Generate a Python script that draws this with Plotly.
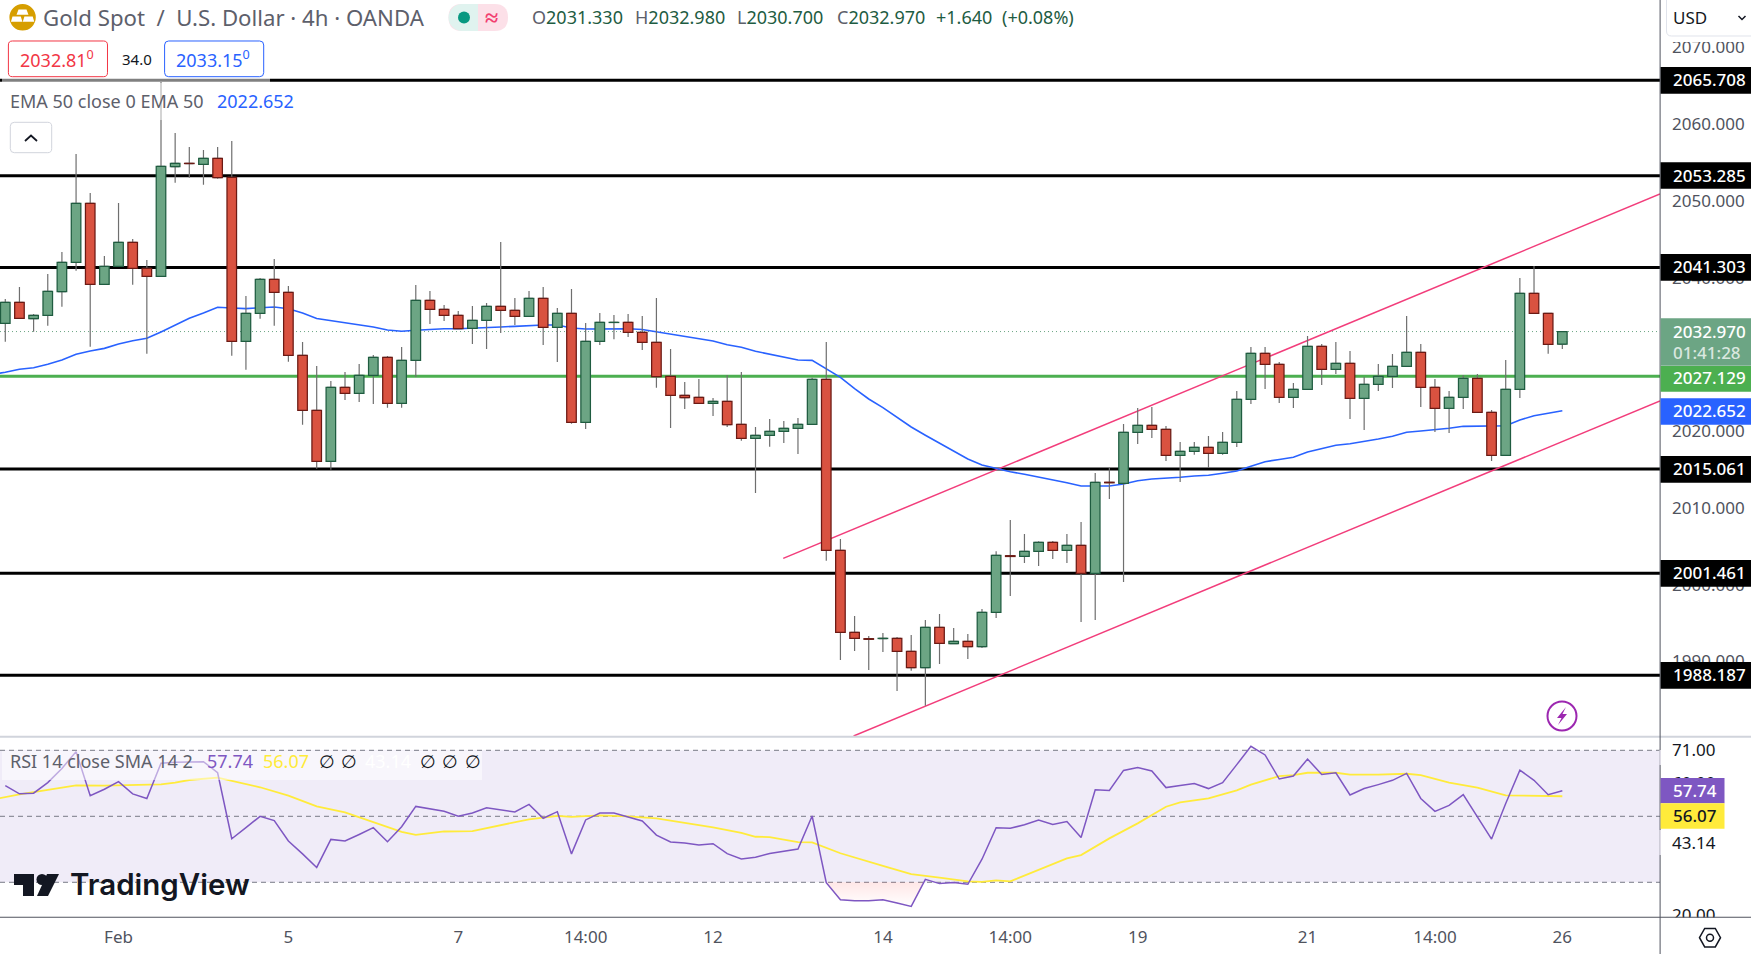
import plotly.graph_objects as go

# ---------- data ----------
opens = [2034.04,2036.78,2034.64,2035.09,2038.16,2041.99,2049.68,2039.13,2041.47,2044.60,2041.21,2040.17,2054.45,2054.89,2054.76,2055.54,2053.07,2031.70,2035.35,2039.78,
2038.08,2029.87,2022.71,2016.06,2025.70,2024.92,2027.27,2029.61,2023.62,2029.22,2037.04,2035.87,2035.09,2033.39,2034.44,2036.26,2035.74,2034.96,2037.30,2033.52,
2035.35,2021.14,2031.70,2034.15,2034.17,2032.87,2031.57,2027.14,2024.66,2024.40,2023.62,2023.88,2020.88,2019.06,2019.45,2019.97,2020.36,2020.88,2026.75,2004.47,
1993.78,1992.95,1992.97,1993.00,1991.31,1989.17,1994.43,1992.30,1992.61,1991.91,1996.39,2003.76,2003.68,2004.34,2005.51,2004.47,2005.12,2001.47,2013.33,2013.20,
2019.84,2020.75,2020.23,2016.84,2017.36,2017.89,2017.11,2018.54,2024.14,2030.13,2028.70,2024.40,2025.44,2031.05,2028.05,2028.83,2024.27,2026.10,2027.14,2028.44,
2030.27,2025.70,2022.97,2024.40,2026.88,2022.45,2016.84,2025.44,2037.95,2035.35,2031.33]
highs = [2037.21,2038.77,2035.26,2040.47,2043.33,2056.10,2051.02,2042.81,2049.72,2045.03,2042.29,2065.49,2058.84,2057.02,2056.63,2057.02,2057.80,2037.60,2039.95,2042.42,
2038.90,2031.61,2028.48,2026.53,2027.70,2028.74,2029.91,2029.78,2030.95,2039.03,2038.25,2036.43,2035.65,2036.30,2036.69,2044.64,2037.34,2038.25,2038.77,2036.04,
2038.51,2034.08,2035.39,2035.13,2035.26,2035.00,2037.34,2030.70,2026.39,2026.78,2024.31,2027.31,2027.70,2020.53,2021.57,2021.31,2021.70,2026.96,2031.61,2005.94,
1995.91,1993.30,1993.69,1993.17,1993.43,1995.38,1996.17,1994.34,1993.56,1996.82,2004.34,2008.41,2006.59,2005.64,2005.68,2006.59,2008.15,2014.54,2015.19,2020.92,
2023.01,2023.14,2020.66,2018.58,2018.58,2019.36,2019.88,2025.22,2030.95,2030.95,2029.00,2026.26,2032.39,2031.35,2031.61,2030.43,2027.05,2028.74,2030.04,2034.99,
2031.35,2026.78,2025.22,2027.31,2027.44,2022.75,2029.26,2039.95,2041.51,2035.39,2032.98]
lows = [2031.65,2034.64,2032.95,2033.73,2036.21,2040.90,2030.99,2039.13,2041.47,2039.07,2030.09,2040.17,2052.36,2053.02,2052.10,2052.89,2029.82,2028.00,2034.64,2033.73,
2029.04,2020.83,2015.10,2014.97,2024.05,2023.79,2023.53,2023.05,2023.05,2027.05,2033.95,2034.34,2033.34,2031.35,2030.70,2032.78,2033.82,2034.96,2031.22,2029.00,
2020.96,2020.27,2031.22,2031.98,2032.26,2030.57,2025.65,2020.40,2022.88,2023.62,2021.96,2020.53,2018.75,2011.93,2017.96,2018.45,2017.01,2020.88,2003.11,1990.17,
1991.35,1988.87,1991.21,1986.13,1988.78,1984.22,1989.65,1992.30,1990.30,1991.74,1995.65,1998.51,2002.81,2002.42,2003.33,2002.81,1995.12,1995.38,2011.15,2000.33,
2018.32,2019.10,2016.10,2013.37,2016.92,2015.19,2016.92,2017.93,2023.53,2025.48,2023.66,2023.01,2025.44,2026.00,2027.44,2021.57,2020.14,2025.22,2025.61,2028.44,
2023.14,2019.88,2019.75,2022.88,2022.45,2016.10,2016.84,2024.31,2035.26,2030.09,2030.70]
closes = [2036.78,2034.69,2035.09,2038.21,2041.99,2049.68,2039.13,2041.47,2044.60,2041.21,2040.17,2054.50,2054.89,2054.86,2055.54,2053.02,2031.70,2035.35,2039.78,2038.08,
2029.87,2022.71,2016.06,2025.70,2024.92,2027.27,2029.61,2023.62,2029.22,2037.04,2035.87,2035.09,2033.34,2034.44,2036.26,2035.74,2034.96,2037.30,2033.52,2035.35,
2021.14,2031.70,2034.17,2034.17,2032.87,2031.57,2027.09,2024.66,2024.35,2023.62,2023.88,2020.83,2019.06,2019.45,2019.97,2020.36,2020.88,2026.75,2004.47,1993.78,
1993.00,1992.87,1993.00,1991.31,1989.17,1994.43,1992.35,1992.61,1991.91,1996.39,2003.82,2003.66,2004.34,2005.51,2004.47,2005.12,2001.47,2013.33,2013.27,2019.84,
2020.75,2020.23,2016.84,2017.36,2017.89,2017.11,2018.54,2024.14,2030.13,2028.70,2024.40,2025.44,2031.05,2028.05,2028.83,2024.27,2026.10,2027.14,2028.44,2030.27,
2025.70,2022.97,2024.40,2026.88,2022.45,2016.84,2025.44,2037.95,2035.35,2031.31,2032.97]

ema_x = list(range(-1, 111))
ema = [2027.37,2027.66,2028.05,2028.26,2028.70,2029.26,2030.00,2030.44,2030.78,2031.35,2031.78,2032.09,2032.91,2033.82,2034.69,2035.38,2036.13,2036.04,2035.95,2036.08,
2036.17,2035.95,2035.38,2034.67,2034.38,2034.04,2033.78,2033.56,2033.17,2033.00,2033.13,2033.26,2033.33,2033.34,2033.39,2033.47,2033.56,2033.65,2033.78,2033.82,
2033.82,2033.43,2033.30,2033.30,2033.34,2033.34,2033.24,2032.95,2032.65,2032.39,2032.09,2031.74,2031.26,2030.92,2030.40,2030.04,2029.65,2029.26,2029.22,2028.09,
2027.01,2025.52,2024.18,2023.05,2021.84,2020.53,2019.45,2018.45,2017.44,2016.36,2015.58,2015.10,2014.71,2014.37,2014.02,2013.67,2013.27,2012.85,2012.85,2012.85,
2013.10,2013.53,2013.75,2013.85,2013.98,2014.15,2014.24,2014.50,2014.80,2015.43,2016.01,2016.30,2016.60,2017.27,2017.70,2018.15,2018.36,2018.62,2018.97,2019.32,
2019.84,2020.01,2020.14,2020.36,2020.62,2020.66,2020.62,2020.70,2021.44,2022.00,2022.32,2022.652]

rsi = [59.3,56.8,57.0,60.2,64.5,69.6,56.25,58.2,60.5,56.8,55.4,66.05,66.35,66.35,66.55,63.2,43.2,46.55,50.0,48.7,
42.5,38.6,34.5,43.0,42.5,44.5,46.55,42.3,46.85,53.0,52.2,51.5,50.0,51.0,52.6,52.0,51.3,53.6,49.4,51.4,
38.6,48.9,51.0,51.0,49.9,48.6,44.3,42.2,41.9,41.3,41.7,38.7,37.05,37.6,38.7,39.3,40.1,50.1,29.9,24.7,
24.4,24.4,24.7,23.7,22.7,30.9,29.6,29.9,29.4,37.0,46.55,46.35,47.45,48.9,47.55,48.4,43.6,58.05,57.85,63.9,
64.75,63.75,58.7,59.3,59.9,58.4,60.2,65.65,71.2,68.6,61.3,62.2,67.35,62.7,63.2,56.45,58.4,59.6,60.9,63.0,
55.4,51.5,53.3,56.55,49.9,43.1,53.9,64.0,60.9,56.55,57.74]

sma_x = [-1,1,3,5,7,9,11,12,13,15,16,18,20,22,24,26,28,29,31,33,35,37,39,40,42,44,46,48,50,52,53,54,56,57,59,62,64,66,68,69,70,71,73,75,76,78,80,82,83,85,87,88,90,91,92,94,95,97,99,100,102,104,106,108,110]
sma = [55.0,56.65,58.0,59.4,59.3,59.5,59.7,60.2,61.0,61.7,60.7,58.8,56.25,53.0,51.2,48.2,45.3,44.4,45.4,45.5,47.35,49.1,50.1,49.8,50.3,50.0,49.4,48.1,46.65,45.0,43.8,43.7,42.2,42.1,38.8,35.0,32.5,31.4,30.3,30.1,30.6,30.3,33.7,37.25,38.25,43.3,47.85,52.9,54.2,55.45,57.85,59.6,62.2,62.5,63.2,63.2,62.6,62.6,62.9,62.5,60.2,58.7,56.35,56.25,56.07]

levels = [2065.708, 2053.285, 2041.303, 2015.061, 2001.461, 1988.187]
green_level = 2027.129
last_price = 2032.97
channel_upper_x, channel_upper_y = [54.96, 116.9], [2003.42, 2050.89]
channel_lower_x, channel_lower_y = [59.93, 116.9], [1980.27, 2023.92]
price_ticks = [1990, 2000, 2010, 2020, 2030, 2040, 2050, 2060, 2070]
rsi_ticks = [70, 60, 41.9, 20]
rsi_tick_text = ["71.00", "60.00", "43.14", "20.00"]
rsi_levels = [70, 50, 30]
date_ticks = [8, 20, 32, 41, 50, 62, 71, 80, 92, 101, 110]
date_text = ["Feb", "5", "7", "14:00", "12", "14", "14:00", "19", "21", "14:00", "26"]
idx = list(range(len(opens)))

# ---------- styling ----------
W, H, PW, PH = 1751, 954, 1660, 917
FONT = "Noto Sans"
UP, UP_B, DN, DN_B, WICK = "#6ca584", "#1f5c40", "#d95240", "#6b1a14", "#6f6f6f"
BLUE, PINK, PURPLE, YEL = "#2962ff", "#f23d7b", "#7e57c2", "#ffeb3b"
PRICE_RANGE = [1980.27, 2076.17]

def X(p): return p / PW
def Y(p): return 1 - p / PH

shapes, ann = [], []

def rect(x0, y0, x1, y1, fill, line=None, lw=0, layer="above"):
    shapes.append(dict(type="rect", xref="paper", yref="paper", x0=X(x0), x1=X(x1), y0=Y(y0), y1=Y(y1),
                       fillcolor=fill, line=dict(color=line or fill, width=lw), layer=layer))

def path(pts, fill="rgba(0,0,0,0)", line=None, lw=0, close=True):
    d = "M" + " L".join(f"{X(a):.6f},{Y(b):.6f}" for a, b in pts) + (" Z" if close else "")
    shapes.append(dict(type="path", xref="paper", yref="paper", path=d, fillcolor=fill,
                       line=dict(color=line or "rgba(0,0,0,0)", width=lw), layer="above"))

def circle(cx, cy, r, fill, line=None, lw=0):
    shapes.append(dict(type="circle", xref="paper", yref="paper", x0=X(cx - r), x1=X(cx + r), y0=Y(cy - r), y1=Y(cy + r),
                       fillcolor=fill, line=dict(color=line or fill, width=lw), layer="above"))

def rrect(x0, y0, x1, y1, r, fill, line, lw=1):
    d = (f"M{X(x0+r):.6f},{Y(y0):.6f} L{X(x1-r):.6f},{Y(y0):.6f} Q{X(x1):.6f},{Y(y0):.6f} {X(x1):.6f},{Y(y0+r):.6f} "
         f"L{X(x1):.6f},{Y(y1-r):.6f} Q{X(x1):.6f},{Y(y1):.6f} {X(x1-r):.6f},{Y(y1):.6f} L{X(x0+r):.6f},{Y(y1):.6f} "
         f"Q{X(x0):.6f},{Y(y1):.6f} {X(x0):.6f},{Y(y1-r):.6f} L{X(x0):.6f},{Y(y0+r):.6f} Q{X(x0):.6f},{Y(y0):.6f} {X(x0+r):.6f},{Y(y0):.6f} Z")
    shapes.append(dict(type="path", xref="paper", yref="paper", path=d, fillcolor=fill, line=dict(color=line, width=lw), layer="above"))

def text(x, y, t, size=17, color="#131722", anchor="left", family=FONT, **kw):
    ann.append(dict(xref="paper", yref="paper", x=X(x), y=Y(y), text=t, showarrow=False, xanchor=anchor, yanchor="middle",
                    borderpad=0, font=dict(family=family, size=size, color=color, **kw)))

def tag(y0, y1, t, bg, ty, fg="#ffffff", right=W, size=17):
    rect(1660.6, y0, right, y1, bg)
    text(1672, ty, t, size=size, color=fg, weight=500)

# ---------- traces ----------
fig = go.Figure()
x_span = [-0.374, 116.9]
for lv in levels:
    fig.add_trace(go.Scatter(x=x_span, y=[lv, lv], mode="lines", line=dict(color="#000000", width=3), hoverinfo="skip"))
fig.add_trace(go.Scatter(x=x_span, y=[green_level] * 2, mode="lines", line=dict(color="#4caf50", width=3), hoverinfo="skip"))
fig.add_trace(go.Scatter(x=x_span, y=[last_price] * 2, mode="lines", line=dict(color=UP, width=1, dash="1px 3px"), hoverinfo="skip"))
fig.add_trace(go.Scatter(x=channel_upper_x, y=channel_upper_y, mode="lines", line=dict(color=PINK, width=1.5), hoverinfo="skip"))
fig.add_trace(go.Scatter(x=channel_lower_x, y=channel_lower_y, mode="lines", line=dict(color=PINK, width=1.5), hoverinfo="skip"))
fig.add_trace(go.Scatter(x=ema_x, y=ema, mode="lines", line=dict(color=BLUE, width=1.6), hoverinfo="skip"))
# wicks on a first overlay axis, so candles sit above the lines
fig.add_trace(go.Candlestick(x=idx, open=opens, high=highs, low=lows, close=closes, whiskerwidth=0, yaxis="y3",
                             increasing=dict(line=dict(color=WICK, width=1.2), fillcolor=UP),
                             decreasing=dict(line=dict(color=WICK, width=1.2), fillcolor=DN), hoverinfo="skip"))
# bodies on a second overlay axis, so they sit above the wicks
is_up = [c >= o for o, c in zip(opens, closes)]
body_lo = [min(o, c) for o, c in zip(opens, closes)]
body_h = [abs(c - o) for o, c in zip(opens, closes)]
fig.add_trace(go.Bar(x=idx, y=body_h, base=body_lo, width=0.675, yaxis="y4", hoverinfo="skip",
                     marker=dict(color=[UP if u else DN for u in is_up],
                                 line=dict(color=[UP_B if u else DN_B for u in is_up], width=1.25))))

# RSI
os_x = list(range(58, 65)) + [64.89]
os_y = rsi[58:65] + [30]
fig.add_trace(go.Scatter(x=[os_x[0], os_x[-1]], y=[30, 30], mode="lines", line=dict(width=0), yaxis="y2", hoverinfo="skip"))
fig.add_trace(go.Scatter(x=os_x, y=os_y, mode="lines", line=dict(width=0), yaxis="y2", fill="tonexty",
                         fillgradient=dict(type="vertical", colorscale=[[0, "rgba(255,82,82,0.0)"], [1, "rgba(255,82,82,0.14)"]]), hoverinfo="skip"))
fig.add_trace(go.Scatter(x=sma_x, y=sma, mode="lines", line=dict(color=YEL, width=1.8), yaxis="y2", hoverinfo="skip"))
fig.add_trace(go.Scatter(x=idx, y=rsi, mode="lines", line=dict(color=PURPLE, width=1.5), yaxis="y2", hoverinfo="skip"))

# RSI band
shapes.append(dict(type="rect", xref="x", yref="y2", x0=x_span[0], x1=x_span[1], y0=30, y1=70, fillcolor="#f0ecf8", line=dict(width=0), layer="below"))
for lv in rsi_levels:
    shapes.append(dict(type="line", xref="x", yref="y2", x0=x_span[0], x1=x_span[1], y0=lv, y1=lv,
                       line=dict(color="#787b86", width=1, dash="5px 4px"), layer="below"))

# translucent legend backgrounds
rect(2, 40, 270, 82, "rgba(255,255,255,0.5)")
rect(2, 83, 300, 120, "rgba(255,255,255,0.5)")
rect(2, 751, 482, 780, "rgba(255,255,255,0.5)")

# frame
rect(1661, 0, W, 42, "#ffffff")
rect(1661, 917.6, W, H, "#ffffff")
rect(0, 735.7, W, 737.7, "#d1d4dc")
rect(1659.6, 0, 1660.6, H, "#50535e")
rect(0, 916.7, W, 917.7, "#50535e")
rect(1659.5, 750, 1660.8, 765, "#f0ecf8")
rect(1659.5, 830, 1660.8, 855, "#f0ecf8")

# ---------- header ----------
circle(22.6, 17.3, 13.2, "#d69e00")
path([(18.5, 9.5), (26.5, 9.5), (28.5, 14.7), (16.5, 14.7)], fill="#ffffff")
path([(12.5, 16.5), (20.8, 16.5), (22.4, 21.7), (10.9, 21.7)], fill="#ffffff")
path([(24.4, 16.5), (32.7, 16.5), (34.3, 21.7), (22.8, 21.7)], fill="#ffffff")
text(42, 17.5, "Gold Spot  /  U.S. Dollar · 4h · OANDA", size=22.2, color="#5d606b")
rrect(448.5, 4, 508, 31, 13.5, "#fce0e8", "#fce0e8", 0)
circle(462, 17.5, 13.5, "#e0f3ef")
rect(462, 4, 478, 31, "#e0f3ef")
circle(464, 17.5, 6, "#089981")
text(491, 17, "≈", size=24, color="#f23f71", anchor="center", weight=700)

G = "#1e5c42"
L = "#5d606b"
for px_, lab, val in [(530.5, "O", "2031.330"), (634, "H", "2032.980"), (736, "L", "2030.700"), (836, "C", "2032.970")]:
    text(px_, 17.5, f'<span style="color:{L}">{lab}</span>{val}', size=18, color=G)
text(935, 17.5, "+1.640", size=18, color=G)
text(1001.4, 17.5, "(+0.08%)", size=18, color=G)

rrect(8.4, 41, 107.5, 76.7, 4, "#ffffff", "#f23645", 1)
text(19, 59, "2032.81<sup>0</sup>", size=18, color="#f23645")
text(121, 59, "34.0", size=15, color="#131722")
rrect(164.6, 41, 263.7, 76.7, 4, "#ffffff", BLUE, 1)
text(174.5, 59, "2033.15<sup>0</sup>", size=18, color=BLUE)

text(8.5, 100.5, "EMA 50 close 0 EMA 50", size=18, color="#5d606b")
text(216, 100.5, "2022.652", size=18, color=BLUE)
rrect(10.3, 122.3, 51.7, 152.7, 4, "#ffffff", "#d1d4dc", 1)
path([(25, 141), (31, 135.5), (37, 141)], line="#131722", lw=1.8, close=False)

rrect(1666.5, -6, 1760, 36, 5, "#ffffff", "#e0e3eb", 1)
text(1672, 17.5, "USD", size=17)
path([(1738.5, 16), (1742, 19.5), (1745.5, 16)], line="#131722", lw=1.5, close=False)

# lightning
circle(1562, 716, 14.5, "#ffffff", "#9c27b0", 2)
path([(1566, 707), (1557, 718), (1561.5, 718), (1558, 725), (1567, 714), (1562.5, 714)], fill="#9c27b0")

# ---------- tags ----------
for y0, y1, lab in [(67, 93.7, "2065.708"), (162.3, 188.7, "2053.285"), (254, 280.7, "2041.303"), (456, 482.7, "2015.061"), (560, 586.7, "2001.461"), (662, 688.7, "1988.187")]:
    tag(y0, y1, lab, "#000000", (y0 + y1) / 2 - 0.5)
rect(1660.6, 318.3, W, 365.7, UP)
text(1672, 331.5, "2032.970", size=17, color="#ffffff", weight=500)
text(1672, 352.5, "01:41:28", size=17, color="rgba(255,255,255,0.75)", weight=500)
tag(366, 391.7, "2027.129", "#4caf50", 377.5)
tag(398.3, 424.7, "2022.652", BLUE, 410)
tag(778, 803.3, "57.74", PURPLE, 790.7, right=1724.5)
tag(803.3, 828.7, "56.07", YEL, 815.7, fg="#131722", right=1724.5)

# RSI legend
text(9, 760.5, "RSI 14 close SMA 14 2", size=18, color="#5d606b")
text(205.5, 760.5, "57.74", size=18, color=PURPLE)
text(262, 760.5, "56.07", size=18, color=YEL)
for px_ in (318, 340, 419, 441, 464):
    text(px_, 760.5, "∅", size=18, color="#131722")
text(363.6, 760.5, "43.14", size=18, color="#ffffff")

# TradingView logo
path([(14, 874), (34, 874), (34, 896), (23, 896), (23, 885), (14, 885)], fill="#131722")
circle(42, 879.5, 5.5, "#131722")
path([(47, 874), (59, 874), (48, 896), (37, 896)], fill="#131722")
text(69, 884, "TradingView", size=29.5, color="#131722", family="Inter", weight=600)

# settings icon
path([(1699.5, 937.7), (1704.7, 928.5), (1715.3, 928.5), (1720.5, 937.7), (1715.3, 946.9), (1704.7, 946.9)], line="#131722", lw=1.5)
circle(1710, 937.7, 3.5, "#ffffff", "#131722", 1.5)

overlay = dict(overlaying="y", range=PRICE_RANGE, side="right", anchor="x", showticklabels=False, showgrid=False, zeroline=False, showline=False, ticks="")
fig.update_layout(
    width=W, height=H, margin=dict(l=0, r=W - PW, t=0, b=H - PH), paper_bgcolor="#ffffff", plot_bgcolor="#ffffff",
    showlegend=False, barmode="overlay", font=dict(family=FONT), shapes=shapes, annotations=ann,
    xaxis=dict(range=x_span, anchor="y2", rangeslider=dict(visible=False), tickmode="array", tickvals=date_ticks, ticktext=date_text,
               showgrid=False, zeroline=False, showline=False, ticks="", ticklabelstandoff=8, tickfont=dict(size=17, color="#50535e", family=FONT)),
    yaxis=dict(domain=[(PH - 736) / PH, 1], range=PRICE_RANGE, side="right", anchor="x", tickmode="array", tickvals=price_ticks,
               tickformat=".3f", showgrid=False, zeroline=False, showline=False, ticks="", ticklabelstandoff=11, tickfont=dict(size=17, color="#50535e", family=FONT)),
    yaxis3=overlay, yaxis4=overlay,
    yaxis2=dict(domain=[0, (PH - 738) / PH], range=[19.48, 73.73], side="right", anchor="x", tickmode="array", tickvals=rsi_ticks, ticktext=rsi_tick_text,
                showgrid=False, zeroline=False, showline=False, ticks="", ticklabelstandoff=11, tickfont=dict(size=17, color="#131722", family=FONT)),
)
fig.write_html("out.html", config={"displayModeBar": False},
               post_script="document.body.style.margin='0';document.body.style.overflow='hidden';")
